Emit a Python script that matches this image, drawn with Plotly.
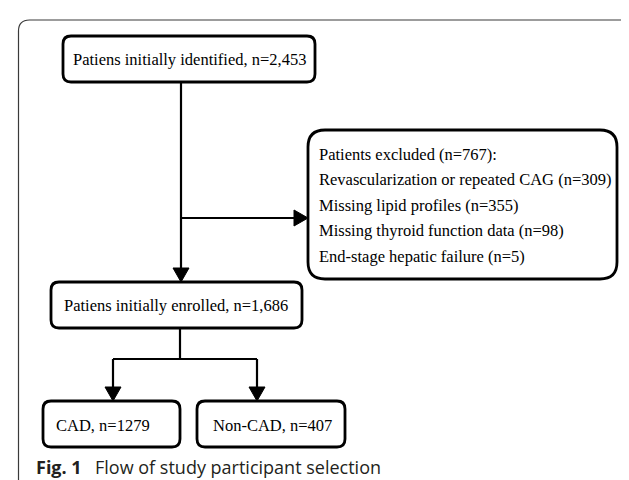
import plotly.graph_objects as go

# ---- content ----
stage_labels = ["Patiens initially identified", "Patiens initially enrolled"]
stage_counts = ["2,453", "1,686"]
excluded_total = 767
excluded_reasons = ["Revascularization or repeated CAG", "Missing lipid profiles",
                    "Missing thyroid function data", "End-stage hepatic failure"]
excluded_counts = [309, 355, 98, 5]
group_labels = ["CAD", "Non-CAD"]
group_counts = [1279, 407]
caption_bold = "Fig. 1"
caption_text = "Flow of study participant selection"

# ---- layout geometry (canvas units = pixels, y downwards) ----
W, H = 629, 480
boxes = {
    "identified": dict(x0=55, y0=28, x1=307, y1=74, r=8),
    "excluded": dict(x0=300, y0=122, x1=609, y1=271, r=17),
    "enrolled": dict(x0=43, y0=274, x1=294, y1=320, r=8),
    "cad": dict(x0=35, y0=393, x1=172, y1=439, r=8),
    "noncad": dict(x0=189, y0=393, x1=337, y1=439, r=8),
}
frame = dict(x0=10.5, y0=12, x1=632, y1=483, r=11)
serif = "Liberation Serif, Times New Roman, serif"
sans = "Open Sans, Noto Sans, sans-serif"
FS = 16.5

def rrect(b):
    x0, y0, x1, y1, r = b["x0"], b["y0"], b["x1"], b["y1"], b["r"]
    return (f"M {x0+r},{y0} L {x1-r},{y0} Q {x1},{y0} {x1},{y0+r} "
            f"L {x1},{y1-r} Q {x1},{y1} {x1-r},{y1} L {x0+r},{y1} "
            f"Q {x0},{y1} {x0},{y1-r} L {x0},{y0+r} Q {x0},{y0} {x0+r},{y0} Z")

shapes = []
shapes.append(dict(type="path", path=rrect(frame), line=dict(color="#3a3a3a", width=1.2),
                   xref="x", yref="y"))
for b in boxes.values():
    shapes.append(dict(type="path", path=rrect(b), line=dict(color="black", width=2.8),
                       xref="x", yref="y"))

def seg(x0, y0, x1, y1):
    shapes.append(dict(type="line", x0=x0, y0=y0, x1=x1, y1=y1,
                       line=dict(color="black", width=2.2), xref="x", yref="y"))

def arrow_down(x, ytip, h=14, w=16):
    shapes.append(dict(type="path", path=f"M {x-w/2},{ytip-h} L {x+w/2},{ytip-h} L {x},{ytip} Z",
                       fillcolor="black", line=dict(color="black", width=1), xref="x", yref="y"))

def arrow_right(xtip, y, h=16, w=14):
    shapes.append(dict(type="path", path=f"M {xtip-w},{y-h/2} L {xtip-w},{y+h/2} L {xtip},{y} Z",
                       fillcolor="black", line=dict(color="black", width=1), xref="x", yref="y"))

bi, be, bn = boxes["identified"], boxes["excluded"], boxes["enrolled"]
bc, bnc = boxes["cad"], boxes["noncad"]
xm = 173
seg(xm, bi["y1"], xm, bn["y0"] - 12)
arrow_down(xm, bn["y0"])
ybr = 210
seg(xm, ybr, be["x0"] - 12, ybr)
arrow_right(be["x0"], ybr)
ysplit = 351
xc = (bc["x0"] + bc["x1"]) / 2 + 1.5
xnc = (bnc["x0"] + bnc["x1"]) / 2 - 14
seg(172, bn["y1"], 172, ysplit)
seg(xc, ysplit, xnc, ysplit)
seg(xc, ysplit, xc, bc["y0"] - 12)
seg(xnc, ysplit, xnc, bnc["y0"] - 12)
arrow_down(xc, bc["y0"])
arrow_down(xnc, bnc["y0"])

ann = []
def text(x, y, s, size=FS, anchor="center", family=serif, color="black"):
    ann.append(dict(x=x, y=y, xref="x", yref="y", text=s, showarrow=False,
                    xanchor=anchor, yanchor="middle",
                    font=dict(family=family, size=size, color=color)))

text(181, 51, f"{stage_labels[0]}, n={stage_counts[0]}")
text(168, 297, f"{stage_labels[1]}, n={stage_counts[1]}")
lines = [f"Patients excluded (n={excluded_total}):"] + \
        [f"{r} (n={c})" for r, c in zip(excluded_reasons, excluded_counts)]
for i, l in enumerate(lines):
    text(309, 146 + i * 25.5, l, anchor="left")
text(46, 417, f"{group_labels[0]}, n={group_counts[0]}", anchor="left")
text(264, 417, f"{group_labels[1]}, n={group_counts[1]}")
text(26, 459, f"<b>{caption_bold}</b>", 18, anchor="left", family=sans, color="#231f20")
text(85, 459, caption_text, 18, anchor="left", family=sans, color="#231f20")

fig = go.Figure()
fig.update_layout(
    width=W, height=H, margin=dict(l=0, r=0, t=0, b=0),
    paper_bgcolor="white", plot_bgcolor="white",
    xaxis=dict(range=[0, W], visible=False, fixedrange=True),
    yaxis=dict(range=[H, 0], visible=False, fixedrange=True),
    shapes=shapes, annotations=ann, showlegend=False,
)
fig.write_html("out.html")
